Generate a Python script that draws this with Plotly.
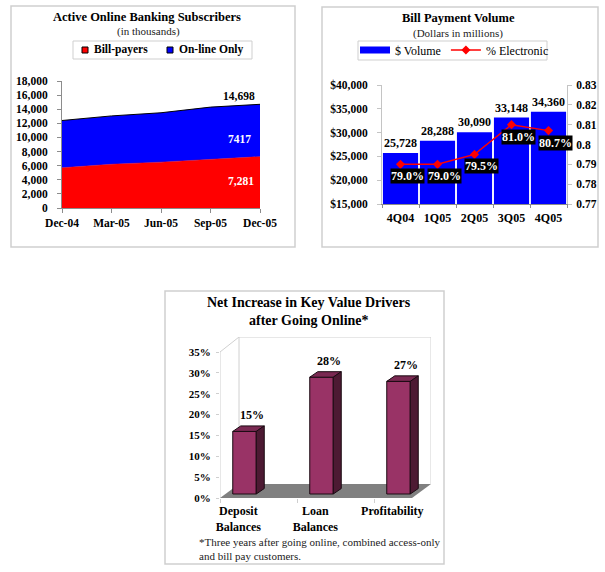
import plotly.graph_objects as go

W, H = 605, 572
SERIF = "Liberation Serif"

# Chart 1
sub_periods = ["Dec-04", "Mar-05", "Jun-05", "Sep-05", "Dec-05"]
bill_payers = [5700, 6200, 6500, 6900, 7281]
online_only = [6700, 6850, 7000, 7400, 7417]
sub_ticks = [0, 2000, 4000, 6000, 8000, 10000, 12000, 14000, 16000, 18000]

# Chart 2
quarters = ["4Q04", "1Q05", "2Q05", "3Q05", "4Q05"]
volume = [25728, 28288, 30090, 33148, 34360]
pct_electronic = [0.79, 0.79, 0.795, 0.81, 0.807]
pct_labels = ["79.0%", "79.0%", "79.5%", "81.0%", "80.7%"]

# Chart 3
drivers = ["Deposit<br>Balances", "Loan<br>Balances", "Profitability"]
increase = [15, 28, 27]
inc_ticks = [0, 5, 10, 15, 20, 25, 30, 35]


def px_x(p):
    return p / W


def px_y(p):
    return 1 - p / H


def dom_x(a, b):
    return [px_x(a), px_x(b)]


def dom_y(top, bottom):
    return [px_y(bottom), px_y(top)]


def font(size, bold=True, color="#000000"):
    return dict(family=SERIF + (", serif"), size=size, color=color, weight=700 if bold else 400)


FRAME = "#cfcfcf"
AXIS = "#8c8c8c"
LIGHT = "#c4c4c4"
fig = go.Figure()
shapes, notes = [], []


def text(s, x, y, size, bold=True, color="#000000", align="center"):
    notes.append(dict(text=s, x=px_x(x), y=px_y(y), xref="paper", yref="paper", showarrow=False,
                      xanchor=align, yanchor="middle", font=font(size, bold, color), align=align))


def frame(x0, y0, x1, y1, fill=None, width=1.5):
    shapes.append(dict(type="rect", xref="paper", yref="paper", x0=px_x(x0), x1=px_x(x1),
                       y0=px_y(y0), y1=px_y(y1), line=dict(color=FRAME, width=width), layer="below",
                       fillcolor=fill or "rgba(0,0,0,0)"))


frame(11, 6, 295, 247)
frame(322, 7, 598, 247)
frame(165, 291, 444, 564)
frame(73, 41, 252, 59, width=1)
frame(358, 41, 547, 60, width=1)

# ---------- Chart 1
fig.add_trace(go.Scatter(x=sub_periods, y=bill_payers, stackgroup="a", mode="lines", name="Bill-payers",
                         showlegend=False, line=dict(color="#ff0000", width=0.5), fillcolor="#ff0000",
                         xaxis="x", yaxis="y"))
fig.add_trace(go.Scatter(x=sub_periods, y=online_only, stackgroup="a", mode="lines", name="On-line Only",
                         showlegend=False, line=dict(color="#000000", width=1), fillcolor="#0000ff",
                         xaxis="x", yaxis="y"))
for name, c, gx in [("Bill-payers", "#ff0000", 85), ("On-line Only", "#0000ff", 170)]:
    shapes.append(dict(type="rect", xref="paper", yref="paper", x0=px_x(gx - 3), x1=px_x(gx + 3),
                       y0=px_y(53), y1=px_y(47), fillcolor=c, line=dict(color="#000000", width=1)))
    text(name, gx + 7, 50, 11.5, align="left")
text("Active Online Banking Subscribers", 147, 17, 12.5)
text("(in thousands)", 148, 32, 11, bold=False, color="#222222")
last = len(sub_periods) - 1
total = bill_payers[last] + online_only[last]
for label, val, col, dy_, dx_ in [(f"{total:,}", total, "#000000", 8, -21),
                                  (str(online_only[last]), bill_payers[last] + online_only[last] / 2, "#ffffff", -9, -21),
                                  (f"{bill_payers[last]:,}", bill_payers[last] / 2, "#ffffff", 1, -19)]:
    notes.append(dict(text=label, x=sub_periods[last], y=val, xref="x", yref="y", showarrow=False,
                      xshift=dx_, yshift=dy_, font=font(11.5, True, col)))

# ---------- Chart 2
fig.add_trace(go.Bar(x=quarters, y=volume, width=0.95, marker=dict(color="#0000ff", line=dict(width=0)),
                     text=[f"{v:,}" for v in volume], textposition="outside", cliponaxis=False,
                     textfont=font(12), showlegend=False, xaxis="x2", yaxis="y2"))
fig.add_trace(go.Scatter(x=[None], y=[None], mode="lines", name="$ Volume", legend="legend2",
                         line=dict(color="#0000ff", width=7), xaxis="x2", yaxis="y2"))
fig.add_trace(go.Scatter(x=quarters, y=pct_electronic, mode="lines+markers", name="% Electronic", legend="legend2",
                         line=dict(color="#ff0000", width=1.5),
                         marker=dict(symbol="diamond", size=7, color="#ff0000"), xaxis="x2", yaxis="y3"))
text("Bill Payment Volume", 458, 18, 12.5)
text("(Dollars in millions)", 458, 33, 11, bold=False, color="#222222")
for q, v, lab in zip(quarters, pct_electronic, pct_labels):
    notes.append(dict(text=lab, x=q, y=v, xref="x2", yref="y3", showarrow=False, xshift=7, yshift=-12,
                      font=font(12, True, "#ffffff"), bgcolor="#000000", borderpad=0))

# ---------- Chart 3
UNIT_X = 77.0          # pixels between bar categories
UNIT_Y = 146 / 35      # pixels per percentage point
FIRST_BAR_X = 244.5    # pixel centre of the first bar's front face
X0_PX, X1_PX = 220, 431
Y_TOP_PX, Y0_PX = 337, 498


def dx(p):
    return p / UNIT_X


def dy(p):
    return p / UNIT_Y


def vx(p):
    return (p - FIRST_BAR_X) / UNIT_X


LIFT = dy(4)
BAR_W = dx(23.5)
DEPTH_X, DEPTH_Y = dx(8), dy(5.5)
cats = list(range(len(increase)))

wx0, wx1, wx2, wx3 = vx(X0_PX), vx(239), vx(431), vx(412)
wy_back = dy(14)
wy_top = dy(Y0_PX - Y_TOP_PX)
for x0, y0, x1, y1 in [(wx0, 35, wx1, wy_top), (wx1, wy_top, wx2, wy_top), (wx2, wy_top, wx2, wy_back),
                       (wx1, wy_back, wx1, wy_top), (wx0, 0, wx0, 35)]:
    shapes.append(dict(type="line", xref="x4", yref="y4", x0=x0, y0=y0, x1=x1, y1=y1, layer="below",
                       line=dict(color="#d0d0d0", width=1)))
shapes.append(dict(type="path", xref="x4", yref="y4", layer="below", fillcolor="#808080", line=dict(width=0),
                   path=f"M {wx0} 0 L {wx1} {wy_back} L {wx2} {wy_back} L {wx3} 0 Z"))
fig.add_trace(go.Bar(x=cats, y=increase, base=[LIFT] * len(cats), width=BAR_W,
                     marker=dict(color="#993366", line=dict(color="#1a0a12", width=1)),
                     showlegend=False, xaxis="x4", yaxis="y4"))
for c, v in zip(cats, increase):
    l, r = c - BAR_W / 2, c + BAR_W / 2
    top = v + LIFT
    fig.add_trace(go.Scatter(x=[l, l + DEPTH_X, r + DEPTH_X, r, l], y=[top, top + DEPTH_Y, top + DEPTH_Y, top, top],
                             mode="lines", fill="toself", fillcolor="#7a2952", showlegend=False, hoverinfo="skip",
                             line=dict(color="#1a0a12", width=1), xaxis="x4", yaxis="y4"))
    fig.add_trace(go.Scatter(x=[r, r + DEPTH_X, r + DEPTH_X, r, r],
                             y=[top, top + DEPTH_Y, LIFT + DEPTH_Y, LIFT, top],
                             mode="lines", fill="toself", fillcolor="#4d1a33", showlegend=False, hoverinfo="skip",
                             line=dict(color="#1a0a12", width=1), xaxis="x4", yaxis="y4"))
    notes.append(dict(text=f"{v}%", x=c, y=top, xref="x4", yref="y4", showarrow=False, xshift=7, yshift=16,
                      font=font(12)))
text("Net Increase in Key Value Drivers", 309, 302, 14)
text("after Going Online*", 309, 320, 14)
text("*Three years after going online, combined access-only", 197, 542, 11, bold=False, color="#222222", align="left")
text("and bill pay customers.", 197, 556, 11, bold=False, color="#222222", align="left")

common = dict(showgrid=False, zeroline=False, tickcolor=AXIS, linecolor=AXIS, automargin=False, tickangle=0)

fig.update_layout(
    width=W, height=H, autosize=False, margin=dict(l=0, r=0, t=0, b=0),
    paper_bgcolor="#ffffff", plot_bgcolor="rgba(0,0,0,0)", barmode="overlay",
    shapes=shapes, annotations=notes, hovermode=False,
    xaxis=dict(domain=dom_x(62, 260), anchor="y", type="category", categoryorder="array",
               categoryarray=sub_periods, range=[0, 4], showline=True, ticks="outside", ticklen=4,
               ticklabelstandoff=0, tickfont=font(11.5), **common),
    yaxis=dict(domain=dom_y(81, 208), anchor="x", range=[0, 18000], tickvals=sub_ticks, tickformat=",",
               showline=True, ticks="outside", ticklen=4, ticklabelstandoff=7, tickfont=font(11.5), **common),
    xaxis2=dict(domain=dom_x(382, 567), anchor="y2", type="category", range=[-0.5, 4.5], tickson="boundaries",
                showline=True, ticks="outside", ticklen=3, ticklabelstandoff=3, tickfont=font(12), **common),
    yaxis2=dict(domain=dom_y(85, 204), anchor="x2", range=[15000, 40000], dtick=5000, tickprefix="$",
                tickformat=",", showline=True, ticks="outside", ticklen=4, ticklabelstandoff=7,
                tickfont=font(11.5), **{**common, "linecolor": LIGHT, "tickcolor": LIGHT}),
    yaxis3=dict(domain=dom_y(85, 204), anchor="x2", overlaying="y2", side="right", range=[0.77, 0.83], dtick=0.01,
                showline=True, ticks="outside", ticklen=4, ticklabelstandoff=2, tickfont=font(11.5),
                **{**common, "linecolor": LIGHT, "tickcolor": LIGHT}),
    xaxis4=dict(domain=dom_x(X0_PX, X1_PX), anchor="y4", range=[vx(X0_PX), vx(X1_PX)], tickmode="array",
                tickvals=[c - 0.08 for c in cats], ticktext=drivers, ticks="", showline=False,
                minor=dict(tick0=vx(X0_PX), dtick=1, ticks="outside", ticklen=4, tickcolor=FRAME),
                ticklabelstandoff=4, tickfont=font(12), **common),
    yaxis4=dict(domain=dom_y(Y_TOP_PX, Y0_PX), anchor="x4", range=[0, wy_top], tickmode="array", tickvals=inc_ticks,
                ticktext=[f"{t}%" for t in inc_ticks], ticks="outside", ticklen=3, ticklabelstandoff=3,
                showline=False, tickfont=font(11), **{**common, "tickcolor": FRAME}),
    legend2=dict(x=px_x(355), y=px_y(50), xanchor="left", yanchor="middle", orientation="h", borderwidth=0,
                 bgcolor="rgba(0,0,0,0)", font=font(12, False), itemwidth=30, tracegroupgap=0,
                 traceorder="normal"),
)
fig.write_html("out.html", config=dict(displayModeBar=False),
               post_script="document.body.style.margin='0';document.body.style.overflow='hidden';")
